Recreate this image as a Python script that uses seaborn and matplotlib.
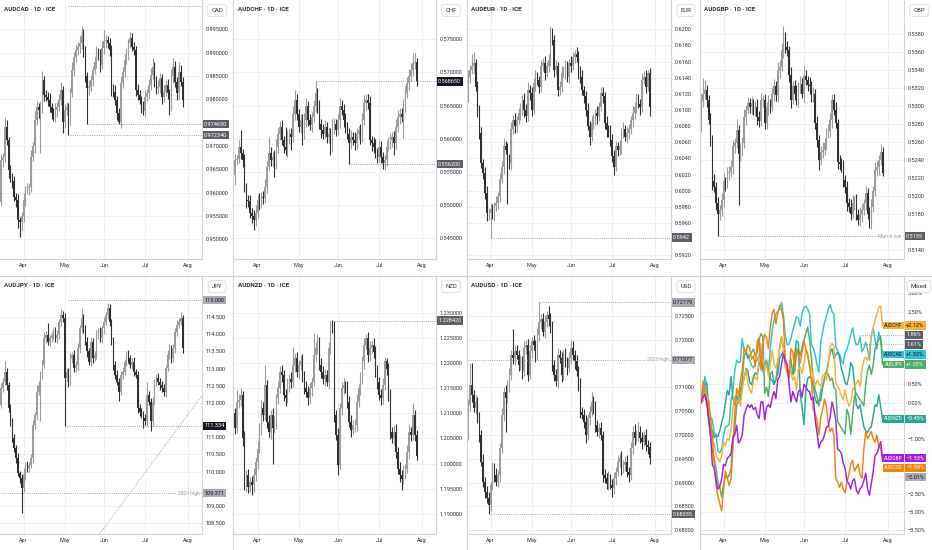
import numpy as np
import pandas as pd
import matplotlib.pyplot as plt
import matplotlib.transforms as mtransforms
from matplotlib.lines import Line2D
import seaborn as sns

# daily bars from 16 Mar
start_date = '2026-03-16'
months = ['Apr', 'May', 'Jun', 'Jul', 'Aug']

# ---------- AUDCAD ----------
cad_open0 = 0.9580
cad_close = [
    0.9671, 0.9677, 0.9741, 0.9713, 0.9649, 0.9634, 0.9624, 0.9591, 0.9584, 0.9541,
    0.9538, 0.9549, 0.9584, 0.9606, 0.9609, 0.9613, 0.9677, 0.9699, 0.9756, 0.9784,
    0.9777, 0.9781, 0.9841, 0.9809, 0.9806, 0.9799, 0.9784, 0.9770, 0.9763, 0.9777,
    0.9784, 0.9799, 0.9820, 0.9752, 0.9777, 0.9784, 0.9756, 0.9813, 0.9863, 0.9891,
    0.9906, 0.9913, 0.9920, 0.9938, 0.9906, 0.9849, 0.9824, 0.9827, 0.9841, 0.9863,
    0.9881, 0.9899, 0.9895, 0.9874, 0.9909, 0.9924, 0.9927, 0.9920, 0.9906, 0.9824,
    0.9816, 0.9799, 0.9770, 0.9752, 0.9834, 0.9859, 0.9884, 0.9899, 0.9920, 0.9931,
    0.9913, 0.9906, 0.9820, 0.9809, 0.9799, 0.9784, 0.9774, 0.9806, 0.9813, 0.9831,
    0.9852, 0.9870, 0.9841, 0.9824, 0.9827, 0.9845, 0.9806, 0.9816, 0.9831, 0.9813,
    0.9784, 0.9849, 0.9870, 0.9838, 0.9813, 0.9859, 0.9838, 0.9799]
cad_wu = [
    12, 8, 22, 15, 6, 10, 8, 12, 9, 14, 7, 10, 15, 9, 12, 8, 14, 10, 18, 12,
    9, 15, 20, 8, 12, 10, 14, 9, 11, 16, 10, 13, 18, 9, 14, 11, 8, 12, 16, 10,
    13, 9, 15, 19, 12, 8, 10, 14, 11, 9, 12, 15, 10, 13, 16, 25, 11, 9, 12, 10,
    8, 14, 9, 12, 15, 10, 13, 11, 9, 14, 12, 10, 8, 13, 11, 9, 12, 15, 10, 13,
    16, 18, 11, 9, 14, 12, 10, 15, 11, 13, 9, 16, 18, 12, 10, 22, 14, 9]
cad_wd = [
    8, 15, 12, 10, 18, 12, 15, 9, 14, 16, 32, 20, 11, 13, 9, 15, 12, 10, 14, 11,
    16, 93, 10, 12, 9, 14, 11, 13, 10, 12, 15, 9, 11, 25, 13, 10, 33, 12, 9, 14,
    11, 10, 13, 12, 15, 11, 77, 14, 10, 12, 9, 13, 11, 15, 10, 12, 14, 9, 13, 16,
    12, 11, 15, 5, 13, 10, 12, 9, 14, 11, 10, 12, 13, 11, 9, 14, 8, 12, 10, 13,
    11, 9, 14, 12, 10, 13, 15, 11, 9, 12, 18, 10, 13, 11, 14, 12, 10, 15]
cad_levels = [(1.0000, 36, 'plain', ''), (0.97465, 46, 'dark', ''), (0.97234, 36, 'dark', '')]

# ---------- AUDCHF ----------
chf_open0 = 0.5545
chf_close = [
    0.55684, 0.5570, 0.5588, 0.5578, 0.5568, 0.5528, 0.5508, 0.5506, 0.5488, 0.5483,
    0.5478, 0.5488, 0.5508, 0.5503, 0.5513, 0.5511, 0.5528, 0.5558, 0.5578, 0.5568,
    0.5573, 0.5563, 0.5588, 0.5608, 0.5618, 0.5598, 0.5588, 0.5583, 0.5603, 0.5608,
    0.5603, 0.5638, 0.5659, 0.5638, 0.5618, 0.5628, 0.5608, 0.5628, 0.5649, 0.5628,
    0.5621, 0.5633, 0.5649, 0.5669, 0.5649, 0.5623, 0.5613, 0.5608, 0.5618, 0.5603,
    0.5608, 0.5588, 0.5618, 0.5623, 0.5613, 0.5628, 0.5649, 0.5644, 0.5628, 0.5618,
    0.5608, 0.5593, 0.5603, 0.5598, 0.5593, 0.5608, 0.5613, 0.5603, 0.5628, 0.5654,
    0.5659, 0.5654, 0.5598, 0.5593, 0.5588, 0.5578, 0.5573, 0.5588, 0.5573, 0.5563,
    0.5568, 0.5588, 0.5593, 0.5598, 0.5603, 0.5593, 0.5618, 0.5633, 0.5638, 0.5633,
    0.5649, 0.5669, 0.5684, 0.5694, 0.5704, 0.5714, 0.5716, 0.56865]
chf_wu = [
    8, 6, 10, 25, 7, 9, 6, 8, 10, 7, 9, 12, 8, 10, 7, 9, 11, 8, 25, 9,
    7, 10, 12, 8, 9, 11, 7, 30, 10, 8, 9, 12, 15, 8, 7, 10, 9, 11, 12, 8,
    10, 7, 9, 17.5, 8, 10, 7, 9, 11, 8, 10, 9, 12, 8, 7, 10, 12, 9, 8, 11,
    7, 9, 10, 8, 12, 9, 7, 10, 11, 12, 8, 9, 10, 7, 9, 11, 8, 10, 9, 7,
    8, 10, 9, 11, 8, 9, 12, 10, 8, 9, 11, 10, 9, 12, 10, 15, 14, 6]
chf_wd = [
    15, 8, 7, 9, 10, 8, 12, 9, 7, 10, 15, 9, 8, 10, 7, 9, 8, 10, 7, 9,
    11, 20, 8, 9, 10, 7, 9, 8, 10, 11, 20, 8, 9, 10, 7, 9, 17, 8, 10, 9,
    7, 11, 8, 9, 10, 8, 12, 9, 7, 10, 9, 12, 8, 10, 9, 7, 11, 8, 10, 9,
    8, 31, 9, 7, 10, 8, 9, 11, 8, 7, 10, 9, 8, 11, 9, 7, 10, 8, 9, 8,
    10, 9, 7, 8, 10, 17, 9, 8, 10, 7, 32, 9, 8, 10, 7, 9, 8, 7.5]
chf_levels = [(0.56865, 43, 'last', ''), (0.5562, 61, 'dark', '')]

# ---------- AUDEUR ----------
eur_open0 = 0.6115
eur_close = [
    0.6141, 0.6150, 0.6154, 0.6158, 0.6129, 0.6100, 0.6071, 0.6034, 0.6022, 0.5997,
    0.5972, 0.5973, 0.5977, 0.5972, 0.5981, 0.5985, 0.5993, 0.6014, 0.6030, 0.6055,
    0.6051, 0.6038, 0.6034, 0.6076, 0.6088, 0.6080, 0.6088, 0.6096, 0.6100, 0.6113,
    0.6100, 0.6092, 0.6125, 0.6121, 0.6100, 0.6133, 0.6141, 0.6137, 0.6129, 0.6154,
    0.6158, 0.6146, 0.6154, 0.6162, 0.6195, 0.6187, 0.6150, 0.6154, 0.6125, 0.6129,
    0.6146, 0.6148, 0.6154, 0.6141, 0.6158, 0.6154, 0.6166, 0.6170, 0.6166, 0.6148,
    0.6141, 0.6125, 0.6117, 0.6100, 0.6080, 0.6067, 0.6084, 0.6088, 0.6096, 0.6092,
    0.6104, 0.6121, 0.6117, 0.6084, 0.6075, 0.6073, 0.6063, 0.6043, 0.6030, 0.6055,
    0.6051, 0.6055, 0.6071, 0.6076, 0.6067, 0.6071, 0.6076, 0.6088, 0.6096, 0.6104,
    0.6113, 0.6108, 0.6104, 0.6137, 0.6141, 0.6129, 0.6146, 0.6104]
eur_wu = [
    8, 6, 16, 14, 5, 7, 6, 8, 5, 7, 9, 6, 8, 7, 5, 9, 6, 8, 7, 10,
    6, 8, 7, 9, 6, 8, 5, 7, 9, 6, 8, 7, 10, 6, 8, 7, 9, 6, 5, 8,
    7, 9, 6, 8, 9, 7, 6, 8, 5, 7, 9, 6, 8, 7, 5, 9, 6, 4, 8, 7,
    6, 8, 5, 7, 9, 6, 8, 7, 5, 9, 6, 8, 7, 5, 8, 6, 9, 7, 8, 6,
    5, 8, 7, 9, 6, 8, 7, 5, 9, 6, 8, 7, 6, 9, 7, 8, 4, 6]
eur_wd = [
    5, 7, 6, 8, 5, 9, 7, 6, 8, 7, 9, 8, 31, 7, 9, 6, 8, 7, 5, 9,
    6, 54, 7, 8, 6, 9, 7, 5, 8, 6, 9, 7, 6, 8, 7, 5, 9, 6, 8, 7,
    6, 9, 5, 7, 8, 6, 9, 7, 8, 6, 7, 5, 9, 6, 8, 7, 5, 8, 6, 9,
    7, 6, 8, 7, 5, 10, 6, 8, 7, 9, 6, 5, 8, 7, 9, 6, 8, 7, 11, 6,
    8, 7, 9, 6, 5, 8, 7, 6, 9, 7, 8, 6, 10, 7, 5, 8, 6, 12]
eur_levels = [(0.5942, 12, 'dark', '')]

# ---------- AUDGBP ----------
gbp_open0 = 0.5275
gbp_close = [
    0.5306, 0.5314, 0.5318, 0.5307, 0.5285, 0.5262, 0.5216, 0.5210, 0.5192, 0.5180,
    0.5184, 0.5195, 0.5216, 0.5214, 0.5225, 0.5227, 0.5232, 0.5255, 0.5259, 0.5273,
    0.5247, 0.5251, 0.5259, 0.5288, 0.5296, 0.5303, 0.5299, 0.5303, 0.5296, 0.5299,
    0.5288, 0.5283, 0.5307, 0.5307, 0.5281, 0.5299, 0.5303, 0.5299, 0.5314, 0.5322,
    0.5312, 0.5340, 0.5344, 0.5362, 0.5377, 0.5366, 0.5362, 0.5335, 0.5307, 0.5322,
    0.5314, 0.5307, 0.5322, 0.5325, 0.5314, 0.5333, 0.5329, 0.5324, 0.5322, 0.5310,
    0.5314, 0.5281, 0.5262, 0.5240, 0.5249, 0.5251, 0.5259, 0.5270, 0.5272, 0.5285,
    0.5307, 0.5296, 0.5281, 0.5238, 0.5236, 0.5232, 0.5218, 0.5210, 0.5192, 0.5188,
    0.5180, 0.5192, 0.5195, 0.5179, 0.5173, 0.5180, 0.5184, 0.5192, 0.5203, 0.5180,
    0.5171, 0.5188, 0.5205, 0.5229, 0.5232, 0.5240, 0.5249, 0.5225]
gbp_wu = [
    8, 17, 11, 6, 5, 7, 6, 8, 5, 7, 6, 8, 9, 5, 7, 6, 8, 7, 5, 13,
    6, 8, 7, 9, 5, 7, 6, 8, 5, 7, 9, 6, 8, 5, 7, 6, 9, 5, 7, 8,
    6, 9, 7, 8, 12, 6, 7, 5, 8, 6, 7, 9, 5, 8, 6, 12, 7, 5, 8, 6,
    7, 5, 8, 6, 7, 9, 5, 6, 8, 7, 7, 6, 8, 5, 7, 6, 8, 5, 7, 6,
    8, 9, 5, 7, 6, 8, 7, 5, 8, 6, 7, 8, 6, 9, 7, 6, 9, 5]
gbp_wd = [
    4, 7, 6, 8, 5, 7, 9, 6, 8, 25, 7, 6, 8, 9, 5, 7, 6, 8, 7, 6,
    57, 8, 7, 6, 9, 5, 7, 8, 6, 7, 9, 6, 5, 8, 7, 6, 9, 7, 5, 8,
    6, 7, 9, 5, 8, 7, 6, 8, 9, 5, 7, 6, 8, 7, 5, 9, 6, 7, 8, 6,
    5, 7, 8, 11, 6, 7, 5, 8, 6, 7, 9, 6, 5, 8, 7, 6, 8, 7, 9, 6,
    7, 5, 8, 6, 6, 7, 9, 5, 8, 6, 7, 8, 6, 5, 7, 9, 6, 3]
gbp_levels = [(0.5155, 9, 'dark', 'March low')]

# ---------- AUDJPY ----------
jpy_open0 = 111.95
jpy_close = [
    112.43, 112.62, 112.91, 112.52, 111.84, 111.46, 110.97, 110.68, 110.39, 109.95,
    109.81, 109.51, 109.90, 110.19, 110.10, 110.19, 110.39, 111.36, 111.65, 112.33,
    112.52, 112.82, 113.11, 113.88, 113.98, 113.79, 113.88, 113.98, 114.08, 113.88,
    113.98, 114.37, 114.56, 114.47, 112.72, 112.91, 112.62, 113.30, 113.40, 113.01,
    113.11, 113.59, 114.17, 114.47, 114.17, 113.79, 113.50, 113.20, 113.79, 113.30,
    113.40, 113.98, 114.08, 113.88, 114.17, 114.37, 114.56, 114.76, 114.37, 113.79,
    113.11, 112.82, 112.62, 112.33, 112.82, 112.91, 113.20, 113.40, 113.30, 113.11,
    113.20, 112.91, 112.82, 111.84, 111.75, 111.65, 111.55, 111.46, 112.23, 112.04,
    111.46, 112.04, 112.62, 112.72, 112.62, 112.52, 112.43, 112.33, 113.01, 113.40,
    113.59, 113.30, 113.59, 114.08, 114.27, 114.37, 114.47, 113.61]
jpy_wu = [
    15, 12, 31, 10, 8, 14, 9, 12, 10, 15, 8, 11, 20, 9, 13, 10, 12, 15, 9, 18,
    12, 10, 14, 20, 11, 34, 9, 13, 10, 12, 15, 9, 18, 11, 14, 10, 12, 16, 9, 13,
    11, 15, 10, 29, 12, 9, 14, 11, 13, 10, 12, 15, 9, 13, 11, 14, 10, 14, 12, 9,
    13, 11, 15, 10, 12, 14, 9, 11, 13, 10, 12, 15, 9, 11, 14, 10, 12, 13, 39, 11,
    10, 14, 9, 12, 15, 10, 13, 11, 9, 14, 12, 10, 13, 11, 15, 12, 19, 8]
jpy_wd = [
    10, 12, 9, 14, 11, 13, 10, 12, 15, 9, 13, 72, 11, 14, 10, 12, 9, 13, 11, 15,
    10, 106, 12, 9, 14, 11, 13, 10, 12, 9, 14, 11, 13, 10, 138.6, 12, 15, 9, 13, 11,
    10, 14, 12, 9, 13, 11, 15, 10, 12, 14, 9, 11, 13, 10, 12, 15, 9, 11, 13, 10,
    14, 12, 9, 27, 11, 13, 10, 12, 15, 9, 11, 13, 10, 14, 12, 9, 29, 11, 13, 10,
    28, 12, 9, 14, 11, 13, 10, 12, 15, 9, 11, 13, 10, 12, 14, 9, 11, 16]
jpy_levels = [(115.000, 36, 'light', ''), (111.334, 34, 'last', ''), (109.371, 0, 'light', '2024 high')]
jpy_trend_bars = [52, 108]
jpy_trend_prices = [108.13, 112.26]

# ---------- AUDNZD ----------
nzd_open0 = 1.2100
nzd_close = [
    1.2070, 1.2123, 1.2126, 1.2136, 1.2050, 1.1957, 1.1977, 1.1954, 1.1964, 1.1957,
    1.1977, 1.2004, 1.2030, 1.2070, 1.2110, 1.2096, 1.2156, 1.2083, 1.2063, 1.2096,
    1.2070, 1.2083, 1.2130, 1.2150, 1.2183, 1.2176, 1.2136, 1.2130, 1.2156, 1.2169,
    1.2163, 1.2196, 1.2209, 1.2183, 1.2196, 1.2203, 1.2176, 1.2150, 1.2143, 1.2130,
    1.2150, 1.2163, 1.2216, 1.2229, 1.2242, 1.2196, 1.2183, 1.2169, 1.2176, 1.2163,
    1.2229, 1.2276, 1.2269, 1.2096, 1.2057, 1.1997, 1.2110, 1.2150, 1.2156, 1.2150,
    1.2123, 1.2083, 1.2067, 1.2077, 1.2077, 1.2123, 1.2150, 1.2169, 1.2203, 1.2236,
    1.2249, 1.2216, 1.2229, 1.2236, 1.2222, 1.2183, 1.2163, 1.2136, 1.2130, 1.2156,
    1.2203, 1.2189, 1.2136, 1.2063, 1.2050, 1.2063, 1.2024, 1.1990, 1.1977, 1.1970,
    1.1984, 1.1990, 1.2024, 1.2063, 1.2057, 1.2096, 1.2057, 1.2016]
nzd_wu = [
    10, 23, 12, 15, 9, 14, 11, 13, 10, 12, 15, 9, 14, 11, 16, 12, 40, 10, 13, 11,
    15, 12, 9, 14, 11, 13, 10, 12, 15, 9, 14, 36, 11, 13, 10, 12, 15, 9, 14, 11,
    13, 10, 43, 12, 15, 9, 14, 11, 13, 10, 12, 8.2, 9, 14, 11, 13, 10, 12, 15, 9,
    14, 11, 13, 10, 12, 15, 9, 14, 11, 13, 8, 12, 15, 9, 14, 11, 13, 10, 12, 15,
    9, 6, 11, 13, 10, 12, 15, 9, 14, 11, 13, 10, 12, 15, 9, 24, 11, 10]
nzd_wd = [
    12, 10, 13, 11, 15, 9, 14, 12, 10, 20, 13, 11, 15, 9, 14, 12, 10, 13, 11, 15,
    70, 9, 14, 12, 10, 13, 11, 15, 9, 14, 12, 10, 13, 11, 15, 9, 14, 12, 10, 13,
    11, 15, 9, 14, 12, 10, 13, 11, 15, 9, 14, 12, 10, 13, 11, 20, 9, 14, 12, 10,
    13, 11, 15, 9, 14, 12, 10, 13, 11, 15, 9, 14, 12, 10, 13, 11, 15, 9, 14, 12,
    10, 13, 11, 15, 9, 14, 12, 10, 13, 23, 11, 15, 9, 14, 12, 10, 13, 9]
nzd_levels = [(1.22842, 51, 'dark', '')]

# ---------- AUDUSD ----------
usd_open0 = 0.7000
usd_close = [
    0.7063, 0.7105, 0.7084, 0.7056, 0.7070, 0.7035, 0.7000, 0.6944, 0.6902, 0.6881,
    0.6867, 0.6853, 0.6895, 0.6930, 0.6916, 0.6902, 0.6916, 0.6972, 0.7042, 0.7091,
    0.7077, 0.7105, 0.7126, 0.7168, 0.7161, 0.7175, 0.7168, 0.7147, 0.7154, 0.7133,
    0.7182, 0.7189, 0.7126, 0.7175, 0.7196, 0.7189, 0.7168, 0.7209, 0.7237, 0.7244,
    0.7216, 0.7237, 0.7251, 0.7244, 0.7223, 0.7147, 0.7126, 0.7112, 0.7168, 0.7161,
    0.7126, 0.7168, 0.7154, 0.7140, 0.7161, 0.7182, 0.7168, 0.7154, 0.7133, 0.7105,
    0.7049, 0.7042, 0.7028, 0.7000, 0.7035, 0.7049, 0.7070, 0.7056, 0.7021, 0.7007,
    0.7014, 0.7000, 0.6916, 0.6909, 0.6898, 0.6909, 0.6895, 0.6888, 0.6909, 0.6923,
    0.6944, 0.6951, 0.6930, 0.6937, 0.6944, 0.6923, 0.6916, 0.6972, 0.7007, 0.6993,
    0.7000, 0.7007, 0.6993, 0.6986, 0.7000, 0.6979, 0.6975, 0.6951]
usd_wu = [
    12, 45, 45, 10, 14, 9, 13, 11, 15, 10, 12, 14, 9, 13, 11, 15, 10, 12, 14, 9,
    13, 11, 15, 10, 55, 12, 14, 9, 13, 11, 15, 10, 12, 14, 9, 13, 11, 15, 40.9, 10,
    12, 14, 9, 20, 11, 15, 10, 12, 14, 9, 13, 11, 15, 10, 12, 17, 14, 9, 13, 11,
    15, 10, 12, 14, 9, 13, 21, 11, 15, 10, 12, 14, 9, 13, 11, 15, 10, 12, 14, 9,
    13, 11, 15, 10, 12, 14, 9, 13, 11, 15, 10, 21, 12, 14, 9, 13, 11, 10]
usd_wd = [
    10, 12, 14, 9, 13, 11, 15, 10, 12, 14, 9, 19.5, 13, 11, 15, 10, 12, 14, 9, 13,
    70, 11, 15, 10, 12, 14, 9, 13, 11, 15, 10, 12, 14, 9, 13, 11, 15, 10, 12, 14,
    9, 13, 11, 15, 10, 12, 14, 9, 13, 11, 15, 10, 12, 14, 9, 13, 11, 15, 10, 12,
    14, 9, 13, 18, 11, 15, 10, 12, 14, 9, 13, 11, 15, 10, 12, 14, 9, 18, 11, 15,
    10, 12, 14, 9, 13, 11, 15, 10, 12, 14, 9, 13, 11, 15, 10, 12, 14, 11]
usd_levels = [(0.72779, 38, 'light', ''), (0.71577, 0, 'light', '2023 high'), (0.68335, 11, 'dark', '')]

# ---------- Mixed (% change of each pair) ----------
mixed_pairs = ['AUDCAD', 'AUDNZD', 'AUDJPY', 'AUDCHF', 'AUDUSD', 'AUDGBP']
mixed_marks = [(1.86, 84, 'dark'), (1.61, 84, 'dark'), (-2.01, None, 'light')]

# ---------------- styling ----------------
sns.set_theme(style='white')
plt.rcParams['font.family'] = ['Roboto', 'DejaVu Sans']
plt.rcParams['axes.unicode_minus'] = True

UP, DN = '#9c9c9c', '#303030'
TXT = '#2a2e39'
GRID = '#eeeeee'
BORDER = '#d6d6d6'
DOT = '#8c8c8c'
BOX = {'last': ('#131722', 'white'), 'dark': ('#5d5f66', 'white'), 'light': ('#a9abb0', '#131722')}
pair_colors = {'AUDCHF': '#f7b13a', 'AUDCAD': '#2fc3d6', 'AUDJPY': '#4daf68',
               'AUDNZD': '#25a995', 'AUDGBP': '#a51ee6', 'AUDUSD': '#f4820e'}
name_text = {'AUDCHF': '#131722', 'AUDCAD': '#131722', 'AUDJPY': 'white',
             'AUDNZD': 'white', 'AUDGBP': 'white', 'AUDUSD': 'white'}
TICK_FS = 4.0

W, H = 932, 550
fig = plt.figure(figsize=(W / 100, H / 100), dpi=100)
fig.patch.set_facecolor('white')

cols = [(0, 202), (234, 436), (467, 671), (700, 904)]
rows = [(0, 259), (276, 534)]
PX_PER_BAR = 1.87

dates = pd.bdate_range(start_date, periods=115)
month_idx = [int(np.argmax((dates.month == m) & (dates.day <= 7))) for m in [4, 5, 6, 7, 8]]


def make_axes(c, r):
    x0, x1 = cols[c]
    y0, y1 = rows[r]
    ax = fig.add_axes([x0 / W, 1 - y1 / H, (x1 - x0) / W, (y1 - y0) / H])
    ax.set_xlim(-0.6, -0.6 + (x1 - x0) / PX_PER_BAR)
    ax.set_facecolor('white')
    ax.set_axisbelow(True)
    ax.grid(True, color=GRID, lw=0.6)
    for s in ['top', 'left']:
        ax.spines[s].set_visible(False)
    for s in ['right', 'bottom']:
        ax.spines[s].set_color(BORDER)
        ax.spines[s].set_linewidth(0.8)
    ax.yaxis.tick_right()
    ax.set_xticks(month_idx)
    ax.set_xticklabels(months)
    ax.tick_params(axis='x', length=0, pad=2.8, labelsize=TICK_FS, labelcolor=TXT)
    ax.tick_params(axis='y', length=0, pad=2.4, labelsize=TICK_FS, labelcolor=TXT)
    return ax


def header(c, r, title, cur):
    x0, x1 = cols[c]
    y0 = rows[r][0]
    if title:
        fig.text((x0 + 4) / W, 1 - (y0 + 9.5) / H, title, fontsize=4.5, fontweight='bold',
                 color=TXT, va='center', ha='left')
    fig.text((x1 + 15) / W, 1 - (y0 + 10.5) / H, cur, fontsize=4.3, color=TXT,
             va='center', ha='center',
             bbox=dict(boxstyle='round,pad=0.6,rounding_size=0.6', fc='white', ec='#dcdcdc', lw=0.6))


def axis_box(ax, y, text, kind, fs=TICK_FS):
    fc, tc = BOX[kind]
    tr = mtransforms.blended_transform_factory(ax.transAxes, ax.transData)
    tr = mtransforms.offset_copy(tr, fig=fig, x=2.2, y=0, units='dots')
    ax.text(1, y, text, transform=tr, ha='left', va='center', fontsize=fs, color=tc,
            bbox=dict(boxstyle='square,pad=0.3', fc=fc, ec='none'), zorder=8, clip_on=False)


def visible_ticks(ticks, boxes, ylim, height_px, min_px=6.0):
    # scale labels hidden under an axis box are not drawn
    scale = height_px / (ylim[1] - ylim[0])
    return [t for t in ticks if all(abs(t - b) * scale >= min_px for b in boxes)]


def candles(ax, close, open0, wu, wd, pip):
    n = min(len(close), len(wu), len(wd))
    c = np.asarray(close[:n], dtype=float)
    o = np.r_[open0, c[:-1]]
    top, bot = np.maximum(o, c), np.minimum(o, c)
    hi = top + np.asarray(wu[:n], dtype=float) * pip
    lo = bot - np.asarray(wd[:n], dtype=float) * pip
    x = np.arange(n)
    col = np.where(c >= o, UP, DN)
    ax.vlines(x, lo, hi, colors=col, lw=0.8, zorder=3)
    ax.bar(x, np.maximum(top - bot, pip * 0.6), bottom=bot, width=0.78, color=col, lw=0, zorder=4)


def price_panel(c, r, name, cur, close, open0, wu, wd, pip, ylim, ticks, dec, levels):
    ax = make_axes(c, r)
    candles(ax, close, open0, wu, wd, pip)
    ax.set_ylim(*ylim)
    boxes = [p for p, _, k, _ in levels if k != 'plain']
    ticks = visible_ticks(ticks, boxes, ylim, rows[r][1] - rows[r][0])
    ax.set_yticks(ticks)
    ax.set_yticklabels([f'{t:.{dec}f}' for t in ticks])
    xr = ax.get_xlim()[1]
    for price, frm, kind, note in levels:
        ax.hlines(price, frm, xr, colors=DOT, lw=0.6, linestyles=(0, (1, 1.6)), zorder=5)
        if kind != 'plain':
            axis_box(ax, price, f'{price:.{dec}f}', kind)
        if note:
            ax.text(xr - 1.2, price, note, ha='right', va='center', fontsize=3.6, color='#9a9a9a',
                    bbox=dict(boxstyle='square,pad=0.15', fc='white', ec='none'), zorder=6)
    header(c, r, f'{name} \u00b7 1D \u00b7 ICE', cur)
    return ax


def steps(a, b, s):
    return np.round(np.arange(a, b + s / 2, s), 6)


price_panel(0, 0, 'AUDCAD', 'CAD', cad_close, cad_open0, cad_wu, cad_wd, 1e-4,
            (0.94578, 1.00128), steps(0.950, 0.995, 0.005), 6, cad_levels)
price_panel(1, 0, 'AUDCHF', 'CHF', chf_close, chf_open0, chf_wu, chf_wd, 1e-4,
            (0.54188, 0.58093), steps(0.545, 0.575, 0.005), 6, chf_levels)
price_panel(2, 0, 'AUDEUR', 'EUR', eur_close, eur_open0, eur_wu, eur_wd, 1e-4,
            (0.59154, 0.62363), steps(0.592, 0.620, 0.002), 4, eur_levels)
price_panel(3, 0, 'AUDGBP', 'GBP', gbp_close, gbp_open0, gbp_wu, gbp_wd, 1e-4,
            (0.51296, 0.54182), steps(0.514, 0.538, 0.002), 4, gbp_levels)
ax_jpy = price_panel(0, 1, 'AUDJPY', 'JPY', jpy_close, jpy_open0, jpy_wu, jpy_wd, 1e-2,
                     (108.18, 115.70), steps(108.5, 115.0, 0.5), 3, jpy_levels)
ax_jpy.plot(jpy_trend_bars, jpy_trend_prices, color=DOT, lw=0.6, ls=(0, (1, 1.6)), zorder=5)
price_panel(1, 1, 'AUDNZD', 'NZD', nzd_close, nzd_open0, nzd_wu, nzd_wd, 1e-4,
            (1.1860, 1.2373), steps(1.190, 1.230, 0.005), 6, nzd_levels)
price_panel(2, 1, 'AUDUSD', 'USD', usd_close, usd_open0, usd_wu, usd_wd, 1e-4,
            (0.67922, 0.73332), steps(0.680, 0.725, 0.005), 5, usd_levels)

# ---------------- Mixed panel ----------------
series = {'AUDCAD': cad_close, 'AUDCHF': chf_close, 'AUDGBP': gbp_close,
          'AUDJPY': jpy_close, 'AUDNZD': nzd_close, 'AUDUSD': usd_close}
frames = []
for p in mixed_pairs:
    c = np.asarray(series[p], dtype=float)
    frames.append(pd.DataFrame({'bar': np.arange(len(c)), 'pct': (c / c[0] - 1) * 100, 'pair': p}))
mix = pd.concat(frames, ignore_index=True)

ax = make_axes(3, 1)
sns.lineplot(data=mix, x='bar', y='pct', hue='pair', hue_order=mixed_pairs, palette=pair_colors,
             linewidth=1.05, legend=False, ax=ax, zorder=4)
ax.set_xlabel('')
ax.set_ylabel('')
mix_ylim = (-3.61, 3.48)
ax.set_ylim(*mix_ylim)
xr = ax.get_xlim()[1]

entries = []
for p in mixed_pairs:
    v = float(mix.loc[mix.pair == p, 'pct'].iloc[-1])
    entries.append((v, p))
for v, frm, kind in mixed_marks:
    entries.append((v, kind))
    if frm is not None:
        ax.hlines(v, frm, xr, colors=DOT, lw=0.6, linestyles=(0, (1, 1.6)), zorder=5)
entries.sort(key=lambda e: -e[0])

mix_h = rows[1][1] - rows[1][0]
gap = 9.5 * (mix_ylim[1] - mix_ylim[0]) / mix_h
tr_d = mtransforms.blended_transform_factory(ax.transAxes, ax.transData)
tr_val = mtransforms.offset_copy(tr_d, fig=fig, x=2.2, y=0, units='dots')
tr_name = mtransforms.offset_copy(tr_d, fig=fig, x=-1.5, y=0, units='dots')
prev = None
placed = []
for v, key in entries:
    y = v if prev is None else min(v, prev - gap)
    prev = y
    placed.append(y)
    if key in pair_colors:
        fc, tc = pair_colors[key], name_text[key]
        txt = f'{v:+.2f}%'.replace('-', '\u2212')
        ax.text(1, y, key, transform=tr_name, ha='right', va='center', fontsize=3.4, color=tc,
                bbox=dict(boxstyle='square,pad=0.3', fc=fc, ec='none'), zorder=8)
    else:
        fc, tc = BOX[key]
        txt = f'{v:.2f}%'.replace('-', '\u2212')
    ax.text(1, y, txt, transform=tr_val, ha='left', va='center', fontsize=TICK_FS, color=tc,
            bbox=dict(boxstyle='square,pad=0.3', fc=fc, ec='none'), zorder=8, clip_on=False)

mt = visible_ticks(steps(-3.5, 3.0, 0.5), placed, mix_ylim, mix_h, min_px=7.0)
ax.set_yticks(mt)
ax.set_yticklabels([f'{t:.2f}%'.replace('-', '\u2212') for t in mt])
header(3, 1, '', 'Mixed')

# panel separators
for xs in [233.5, 466.5, 699.5]:
    fig.add_artist(Line2D([xs / W, xs / W], [0, 1], color=BORDER, lw=0.8))
fig.add_artist(Line2D([0, 1], [1 - 275.5 / H, 1 - 275.5 / H], color=BORDER, lw=0.8))

fig.savefig('out.png', dpi=100, facecolor='white')
